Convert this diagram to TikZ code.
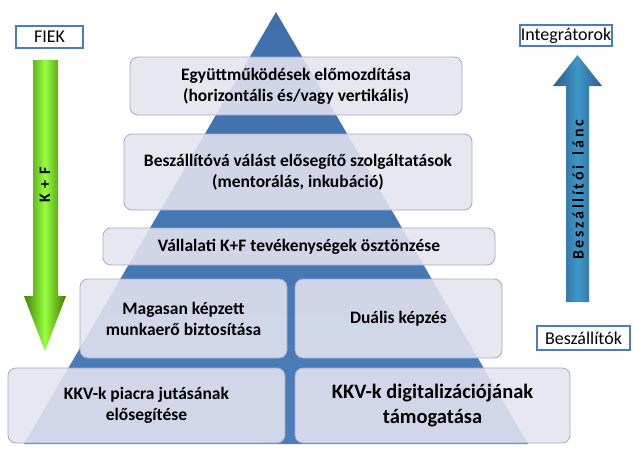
\documentclass[tikz,border=0pt]{standalone}
\usepackage{fontspec}
\setmainfont{Carlito}
\usetikzlibrary{arrows.meta,shapes.arrows}
\definecolor{pyr}{HTML}{4A7EBB}
\definecolor{pyrtop}{HTML}{3F6FAA}
\definecolor{boxf}{HTML}{E4E4F0}
\definecolor{boxd}{HTML}{A8A8C4}
\begin{document}
\begin{tikzpicture}[x=1pt,y=-1pt,
  box/.style={draw=boxd, line width=0.8pt, fill=boxf, fill opacity=0.88, text opacity=1, rounded corners=8pt, font=\bfseries\fontsize{17.5}{21}\selectfont, align=center, inner sep=0},
  lbl/.style={draw=pyr, line width=1.2pt, fill=white, font=\fontsize{18}{20}\selectfont, inner sep=0}]
\useasboundingbox (0,0) rectangle (633,453);
\shade[top color=pyrtop, bottom color=pyr] (276,12) coordinate (apex) -- (528,444) -- (24,444) -- cycle;
% boxes
\node[box, minimum width=332, minimum height=58] (b1) at (296,86) {Együttműködések előmozdítása\\(horizontális és/vagy vertikális)};
\node[box, minimum width=348, minimum height=76] (b2) at (298,172) {Beszállítóvá válást elősegítő szolgáltatások\\(mentorálás, inkubáció)};
\node[box, minimum width=392, minimum height=37] (b3) at (299,246.5) {Vállalati K+F tevékenységek ösztönzése};
\node[box, minimum width=207, minimum height=79] (b4a) at (183.5,318.5) {Magasan képzett\\munkaerő biztosítása};
\node[box, minimum width=207, minimum height=79] (b4b) at (398.5,318.5) {Duális képzés};
\node[box, minimum width=277, minimum height=75] (b5a) at (146.5,405.5) {KKV-k piacra jutásának\\elősegítése};
\node[box, minimum width=275, minimum height=75, font=\bfseries\fontsize{20.5}{25}\selectfont] (b5b) at (432.5,405.5) {KKV-k digitalizációjának\\támogatása};
% green arrow
\shade[left color=green!35!black!75!yellow, right color=green!30!black!75!yellow, middle color=green!55!yellow!75]
  (33,60) -- (58,60) -- (58,296) -- (66,296) -- (45,351) -- (24,296) -- (33,296) -- cycle;
\node[rotate=90, font=\bfseries\fontsize{16}{18}\selectfont] (kf) at (45,185) {K\,\,+\,\,F};
% blue arrow
\shade[left color=pyrtop!80!black, right color=pyrtop!80!black, middle color=pyr!80!cyan]
  (566,302) -- (589,302) -- (589,86) -- (602,86) -- (577.5,55) -- (553,86) -- (566,86) -- cycle;
\node[rotate=90, font=\bfseries\fontsize{16}{18}\selectfont] (lanc) at (578,190) {B\,e\,s\,z\,á\,l\,l\,í\,t\,ó\,i\,\,\,\,l\,á\,n\,c};
% labels
\node[lbl, minimum width=67, minimum height=22] (fiek) at (49.5,37) {FIEK};
\node[lbl, minimum width=92, minimum height=21] (integ) at (566,35.5) {Integrátorok};
\node[lbl, minimum width=93, minimum height=24] (besz) at (583.5,338) {Beszállítók};
\end{tikzpicture}
\end{document}
